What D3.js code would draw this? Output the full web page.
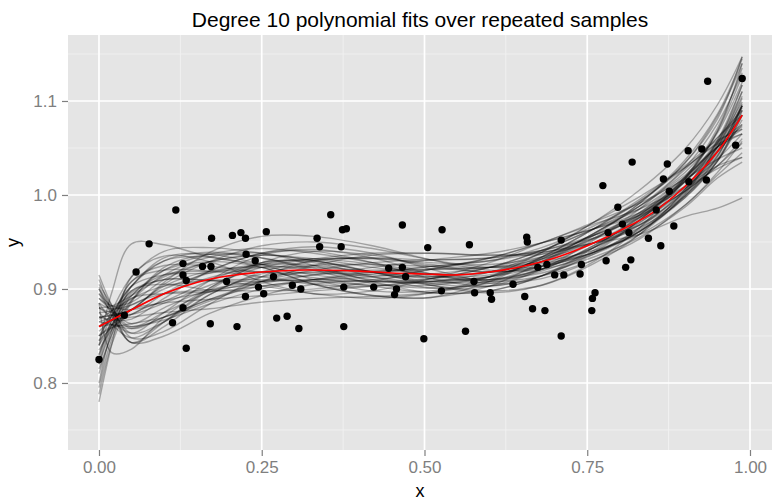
<!DOCTYPE html>
<html>
<head>
<meta charset="utf-8">
<script src="https://cdn.jsdelivr.net/npm/d3@7"></script>
<style>
  body { margin: 0; background: #fff; }
  svg { display: block; }
</style>
</head>
<body>
<svg id="chart" width="772" height="502"></svg>
<script>
// Observed sample points
const pointX = [0.000,0.039,0.057,0.077,0.118,0.113,0.129,0.129,0.129,0.134,0.134,0.159,0.172,0.173,0.171,0.196,0.212,0.205,0.218,0.225,0.226,0.225,0.240,0.245,
  0.257,0.253,0.268,0.273,0.289,0.297,0.307,0.310,0.335,0.339,0.356,0.372,0.374,0.380,0.376,0.376,0.422,0.445,0.466,0.457,0.454,0.466,0.471,0.499,0.505,0.527,0.526,
  0.569,0.563,0.576,0.577,0.601,0.603,0.636,0.654,0.657,0.658,0.666,0.674,0.688,0.685,0.700,0.710,0.710,0.714,0.739,0.741,0.757,0.758,0.762,0.774,0.779,0.782,0.797,0.804,0.814,0.809,0.817,
  0.819,0.844,0.863,0.856,0.883,0.876,0.867,0.873,0.905,0.906,0.926,0.933,0.935,0.978,0.988];
const pointY = [0.825,0.872,0.918,0.948,0.984,0.864,0.880,0.927,0.915,0.909,0.837,0.924,0.924,0.954,0.863,0.908,0.860,0.957,0.960,0.954,0.937,0.892,0.930,0.902,
  0.961,0.895,0.913,0.869,0.871,0.904,0.858,0.900,0.954,0.945,0.979,0.945,0.963,0.964,0.902,0.860,0.902,0.922,0.923,0.900,0.894,0.968,0.913,0.847,0.944,0.963,0.898,
  0.947,0.855,0.908,0.896,0.896,0.889,0.905,0.892,0.955,0.950,0.879,0.923,0.926,0.877,0.915,0.952,0.850,0.915,0.916,0.926,0.877,0.890,0.896,1.010,0.930,0.960,0.987,0.969,0.960,0.923,0.931,
  1.035,0.954,0.946,0.984,0.967,1.004,1.017,1.033,1.047,1.014,1.049,1.016,1.121,1.053,1.124];

// Polynomial fits from repeated samples, evaluated at shared x positions
const fitX = [0, 0.02, 0.05, 0.1, 0.17, 0.25, 0.33, 0.42, 0.51, 0.6, 0.68, 0.76, 0.83, 0.9, 0.95, 0.988];
const fitY = [
  [0.900,0.877,0.853,0.865,0.894,0.918,0.930,0.933,0.926,0.918,0.924,0.944,0.968,1.004,1.046,1.095],
  [0.800,0.857,0.908,0.920,0.919,0.913,0.905,0.903,0.911,0.923,0.941,0.964,0.985,1.019,1.051,1.070],
  [0.880,0.872,0.873,0.895,0.919,0.938,0.940,0.928,0.911,0.903,0.914,0.939,0.973,1.019,1.066,1.120],
  [0.830,0.867,0.898,0.910,0.909,0.908,0.910,0.913,0.921,0.933,0.949,0.964,0.978,1.004,1.031,1.055],
  [0.905,0.882,0.848,0.855,0.884,0.913,0.930,0.933,0.931,0.933,0.941,0.954,0.968,0.999,1.036,1.085],
  [0.840,0.862,0.888,0.915,0.934,0.938,0.925,0.908,0.896,0.898,0.914,0.944,0.978,1.019,1.071,1.135],
  [0.870,0.867,0.868,0.890,0.919,0.938,0.945,0.938,0.921,0.908,0.914,0.931,0.953,0.989,1.021,1.045],
  [0.815,0.852,0.903,0.930,0.934,0.923,0.905,0.893,0.891,0.908,0.934,0.964,0.993,1.029,1.056,1.075],
  [0.895,0.875,0.858,0.870,0.889,0.903,0.908,0.908,0.911,0.923,0.941,0.964,0.988,1.021,1.051,1.065],
  [0.860,0.872,0.893,0.920,0.929,0.923,0.905,0.893,0.891,0.903,0.929,0.959,0.988,1.029,1.076,1.130],
  [0.885,0.879,0.883,0.900,0.917,0.926,0.925,0.918,0.911,0.910,0.921,0.944,0.973,1.014,1.056,1.105],
  [0.780,0.842,0.913,0.935,0.929,0.908,0.895,0.898,0.911,0.928,0.949,0.969,0.985,1.009,1.031,1.040],
  [0.875,0.862,0.848,0.865,0.899,0.928,0.940,0.936,0.924,0.918,0.924,0.939,0.961,0.997,1.036,1.080],
  [0.850,0.872,0.903,0.930,0.939,0.933,0.920,0.906,0.901,0.906,0.919,0.939,0.963,1.001,1.041,1.095],
  [0.890,0.877,0.863,0.880,0.899,0.908,0.910,0.908,0.908,0.913,0.929,0.957,0.991,1.037,1.086,1.145],
  [0.820,0.862,0.898,0.905,0.899,0.898,0.900,0.908,0.921,0.933,0.949,0.971,0.991,1.017,1.038,1.050],
  [0.865,0.862,0.858,0.870,0.889,0.908,0.920,0.928,0.931,0.933,0.941,0.957,0.976,1.004,1.031,1.060],
  [0.845,0.877,0.913,0.940,0.944,0.938,0.930,0.918,0.908,0.908,0.921,0.946,0.976,1.017,1.058,1.110],
  [0.900,0.872,0.843,0.850,0.874,0.893,0.905,0.910,0.916,0.923,0.937,0.957,0.979,1.014,1.051,1.095],
  [0.855,0.867,0.883,0.895,0.899,0.906,0.915,0.923,0.931,0.938,0.949,0.964,0.981,1.007,1.028,1.040],
  [0.880,0.875,0.873,0.885,0.904,0.923,0.932,0.938,0.938,0.936,0.939,0.949,0.965,0.997,1.036,1.090],
  [0.810,0.852,0.893,0.915,0.919,0.918,0.912,0.903,0.896,0.898,0.914,0.941,0.973,1.017,1.068,1.140],
  [0.870,0.872,0.878,0.905,0.929,0.946,0.950,0.943,0.931,0.923,0.924,0.939,0.961,0.999,1.041,1.095],
  [0.835,0.857,0.878,0.885,0.889,0.893,0.898,0.903,0.908,0.913,0.924,0.944,0.970,1.009,1.051,1.103],
  [0.895,0.882,0.878,0.887,0.909,0.928,0.930,0.918,0.904,0.896,0.904,0.929,0.965,1.017,1.068,1.127],
  [0.825,0.867,0.908,0.925,0.924,0.918,0.918,0.920,0.921,0.923,0.929,0.941,0.958,0.989,1.024,1.057],
  [0.865,0.870,0.878,0.895,0.912,0.923,0.923,0.918,0.913,0.915,0.929,0.953,0.979,1.017,1.056,1.099],
  [0.850,0.859,0.863,0.870,0.887,0.908,0.925,0.936,0.938,0.936,0.937,0.949,0.968,1.003,1.043,1.090],
  [0.885,0.867,0.853,0.875,0.909,0.936,0.942,0.933,0.916,0.906,0.911,0.931,0.958,1.001,1.054,1.117],
  [0.840,0.872,0.903,0.915,0.917,0.926,0.932,0.932,0.928,0.926,0.934,0.954,0.981,1.019,1.051,1.073],
  [0.910,0.877,0.843,0.865,0.901,0.928,0.928,0.913,0.901,0.903,0.921,0.952,0.985,1.027,1.061,1.085],
  [0.795,0.847,0.888,0.920,0.937,0.943,0.938,0.928,0.916,0.910,0.917,0.934,0.955,0.987,1.018,1.035],
  [0.875,0.877,0.890,0.903,0.909,0.910,0.908,0.904,0.904,0.913,0.932,0.959,0.991,1.034,1.081,1.147],
  [0.830,0.862,0.890,0.895,0.897,0.903,0.910,0.916,0.924,0.930,0.939,0.949,0.958,0.977,0.986,0.997],
  [0.860,0.862,0.860,0.867,0.884,0.900,0.910,0.918,0.924,0.930,0.944,0.967,0.993,1.034,1.084,1.140],
  [0.890,0.882,0.886,0.910,0.929,0.936,0.930,0.918,0.906,0.903,0.914,0.937,0.965,1.006,1.048,1.093],
  [0.845,0.859,0.873,0.887,0.897,0.908,0.915,0.918,0.921,0.923,0.932,0.949,0.971,1.006,1.046,1.097],
  [0.902,0.879,0.860,0.875,0.897,0.913,0.917,0.913,0.904,0.898,0.904,0.927,0.958,1.006,1.058,1.117],
  [0.788,0.842,0.886,0.923,0.937,0.933,0.922,0.910,0.906,0.913,0.932,0.959,0.988,1.024,1.061,1.090],
  [0.868,0.877,0.903,0.933,0.937,0.926,0.910,0.898,0.898,0.910,0.934,0.964,0.995,1.031,1.058,1.070],
  [0.840,0.897,0.948,0.947,0.934,0.926,0.920,0.915,0.913,0.918,0.934,0.957,0.981,1.015,1.046,1.075],
  [0.885,0.832,0.836,0.870,0.901,0.926,0.932,0.926,0.914,0.910,0.921,0.946,0.975,1.014,1.051,1.085],
  [0.850,0.862,0.878,0.903,0.919,0.923,0.915,0.908,0.908,0.918,0.939,0.971,1.005,1.049,1.096,1.147],
  [0.870,0.872,0.878,0.907,0.939,0.956,0.956,0.946,0.931,0.920,0.921,0.937,0.961,0.999,1.038,1.085],
  [0.860,0.867,0.870,0.875,0.879,0.886,0.890,0.892,0.896,0.908,0.925,0.949,0.976,1.015,1.054,1.095],
  [0.820,0.857,0.896,0.910,0.909,0.903,0.895,0.890,0.896,0.913,0.939,0.971,0.998,1.029,1.054,1.065],
  [0.880,0.882,0.893,0.913,0.929,0.936,0.932,0.923,0.916,0.918,0.931,0.954,0.978,1.009,1.038,1.065],
  [0.915,0.882,0.843,0.860,0.894,0.916,0.925,0.926,0.924,0.923,0.927,0.939,0.961,1.004,1.051,1.110]
];

// Average fit
const meanX = [0, 0.05, 0.1, 0.15, 0.2, 0.25, 0.3, 0.35, 0.4, 0.45, 0.5, 0.55, 0.6, 0.65, 0.7, 0.75, 0.8, 0.85, 0.9, 0.95, 0.988];
const meanY = [0.860,0.878,0.895,0.907,0.914,0.918,0.920,0.920,0.919,0.917,0.916,0.915,0.918,0.924,0.933,0.946,0.962,0.981,1.009,1.046,1.085];

const xTicks = [0, 0.25, 0.5, 0.75, 1];
const yTicks = [0.8, 0.9, 1.0, 1.1];
const xMinor = [0.125, 0.375, 0.625, 0.875];
const yMinor = [0.75, 0.85, 0.95, 1.05, 1.15];

const panel = { left: 68, right: 772, top: 35, bottom: 450 };
const svg = d3.select("#chart");
const font = "'Liberation Sans', Arial, Helvetica, sans-serif";

const x = d3.scaleLinear().domain([-0.0476, 1.0338]).range([panel.left, panel.right]);
const y = d3.scaleLinear().domain([0.7287, 1.1702]).range([panel.bottom, panel.top]);

svg.append("defs").append("clipPath").attr("id", "panel-clip")
  .append("rect")
  .attr("x", panel.left).attr("y", panel.top)
  .attr("width", panel.right - panel.left).attr("height", panel.bottom - panel.top);

// Panel background
svg.append("rect")
  .attr("x", panel.left).attr("y", panel.top)
  .attr("width", panel.right - panel.left).attr("height", panel.bottom - panel.top)
  .attr("fill", "#E5E5E5");

const grid = svg.append("g");
grid.selectAll(".vminor").data(xMinor).join("line")
  .attr("x1", d => x(d)).attr("x2", d => x(d))
  .attr("y1", panel.top).attr("y2", panel.bottom)
  .attr("stroke", "#F2F2F2").attr("stroke-width", 0.9);
grid.selectAll(".hminor").data(yMinor).join("line")
  .attr("y1", d => y(d)).attr("y2", d => y(d))
  .attr("x1", panel.left).attr("x2", panel.right)
  .attr("stroke", "#F2F2F2").attr("stroke-width", 0.9);
grid.selectAll(".vmajor").data(xTicks).join("line")
  .attr("x1", d => x(d)).attr("x2", d => x(d))
  .attr("y1", panel.top).attr("y2", panel.bottom)
  .attr("stroke", "#FFFFFF").attr("stroke-width", 1.7);
grid.selectAll(".hmajor").data(yTicks).join("line")
  .attr("y1", d => y(d)).attr("y2", d => y(d))
  .attr("x1", panel.left).attr("x2", panel.right)
  .attr("stroke", "#FFFFFF").attr("stroke-width", 1.7);

const plot = svg.append("g").attr("clip-path", "url(#panel-clip)");

// Sample fits
const fitLine = d3.line()
  .x((d, i) => x(fitX[i]))
  .y(d => y(d))
  .curve(d3.curveCatmullRom.alpha(0.5));
plot.append("g").selectAll("path").data(fitY).join("path")
  .attr("d", fitLine)
  .attr("fill", "none")
  .attr("stroke", "#000")
  .attr("stroke-opacity", 0.3)
  .attr("stroke-width", 1.4);

// Mean fit
const meanLine = d3.line()
  .x((d, i) => x(meanX[i]))
  .y(d => y(d))
  .curve(d3.curveCatmullRom.alpha(0.5));
plot.append("path")
  .attr("d", meanLine(meanY))
  .attr("fill", "none")
  .attr("stroke", "#FF0000")
  .attr("stroke-width", 1.6);

// Points
plot.append("g").selectAll("circle").data(pointX).join("circle")
  .attr("cx", d => x(d))
  .attr("cy", (d, i) => y(pointY[i]))
  .attr("r", 3.7)
  .attr("fill", "#000");

// Axes
const xAxis = svg.append("g")
  .attr("transform", `translate(0,${panel.bottom})`)
  .call(d3.axisBottom(x).tickValues(xTicks).tickFormat(d3.format(".2f")).tickSize(6).tickPadding(5));
const yAxis = svg.append("g")
  .attr("transform", `translate(${panel.left},0)`)
  .call(d3.axisLeft(y).tickValues(yTicks).tickFormat(d3.format(".1f")).tickSize(6).tickPadding(5));
[xAxis, yAxis].forEach(g => {
  g.select(".domain").remove();
  g.selectAll(".tick line").attr("stroke", "#7F7F7F").attr("stroke-width", 1.2);
  g.selectAll(".tick text").attr("fill", "#7F7F7F")
    .style("font-family", font).style("font-size", "17px");
});

// Titles
svg.append("text")
  .attr("x", (panel.left + panel.right) / 2).attr("y", 27)
  .attr("text-anchor", "middle")
  .style("font-family", font).style("font-size", "21px").attr("fill", "#000")
  .text("Degree 10 polynomial fits over repeated samples");
svg.append("text")
  .attr("x", (panel.left + panel.right) / 2).attr("y", 497)
  .attr("text-anchor", "middle")
  .style("font-family", font).style("font-size", "18px").attr("fill", "#000")
  .text("x");
svg.append("text")
  .attr("transform", `translate(19,${(panel.top + panel.bottom) / 2}) rotate(-90)`)
  .attr("text-anchor", "middle")
  .style("font-family", font).style("font-size", "18px").attr("fill", "#000")
  .text("y");
</script>
</body>
</html>
